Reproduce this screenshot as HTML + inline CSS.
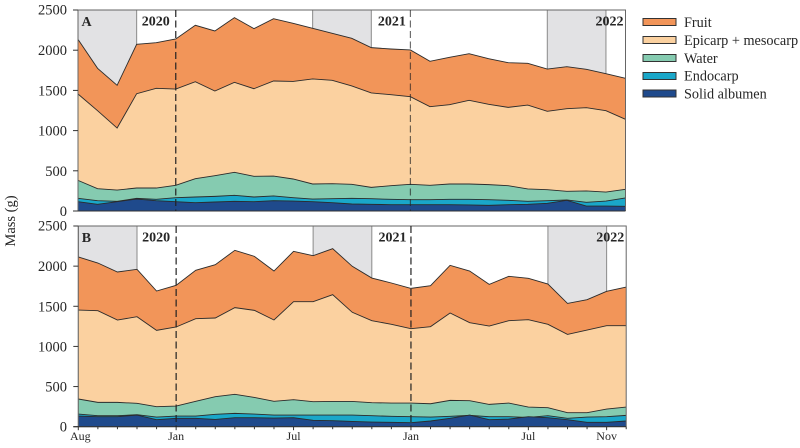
<!DOCTYPE html>
<html lang="en">
<head>
<meta charset="utf-8">
<title>Mass by fruit component</title>
<style>
html,body{margin:0;padding:0;background:#fff;width:800px;height:448px;overflow:hidden}
svg{display:block;font-family:"Liberation Serif",serif;color:#222}
text{fill:#262626}
</style>
</head>
<body>
<svg id="chart" width="800" height="448" viewBox="0 0 800 448" xmlns="http://www.w3.org/2000/svg">
<text transform="translate(15,221) rotate(-90)" text-anchor="middle" font-size="14.5">Mass (g)</text>
<g>
<g><rect x="643" y="18.5" width="33" height="7" fill="#F29559" stroke="#333" stroke-width="1"/><text x="684" y="27" font-size="14.25">Fruit</text></g>
<g><rect x="643" y="36.5" width="33" height="7" fill="#FBD1A0" stroke="#333" stroke-width="1"/><text x="684" y="45" font-size="14.25">Epicarp + mesocarp</text></g>
<g><rect x="643" y="54.5" width="33" height="7" fill="#85CBB0" stroke="#333" stroke-width="1"/><text x="684" y="63" font-size="14.25">Water</text></g>
<g><rect x="643" y="72.5" width="33" height="7" fill="#1AA7C9" stroke="#333" stroke-width="1"/><text x="684" y="80.5" font-size="14.25">Endocarp</text></g>
<g><rect x="643" y="90" width="33" height="7" fill="#1F4A8C" stroke="#333" stroke-width="1"/><text x="684" y="98.5" font-size="14.25">Solid albumen</text></g>
</g>
</svg>
<script>
const months = 29;
const yTicks = [0, 500, 1000, 1500, 2000, 2500];
const xTickIndexes = [0, 5, 11, 17, 23, 27];
const xTickLabels = ['Aug', 'Jan', 'Jul', 'Jan', 'Jul', 'Nov'];
const dryPeriods = [[0, 3], [12, 15], [24, 27]];
const yearDividers = [5, 17];

const fruitA = [2135,1775,1563,2073,2094,2140,2310,2239,2405,2268,2392,2334,2272,2210,2148,2032,2015,2003,1862,1911,1957,1895,1845,1837,1766,1795,1762,1708,1650];
const epicarpA = [1455,1248,1032,1459,1526,1517,1608,1492,1600,1521,1617,1612,1642,1625,1555,1468,1447,1422,1298,1322,1376,1327,1289,1318,1240,1273,1285,1248,1140];
const waterA = [381,278,261,286,286,319,402,439,481,431,435,398,336,340,332,294,315,332,319,336,336,328,315,274,265,245,249,236,270];
const endocarpA = [158,128,120,157,145,166,174,182,195,174,187,166,149,153,158,153,145,141,141,145,145,141,133,120,128,137,108,124,162];
const albumenA = [116,83,116,149,128,116,104,112,120,116,128,124,116,104,87,83,79,79,79,79,75,70,79,83,95,133,62,62,58];

const fruitB = [2114,2039,1927,1960,1690,1761,1948,2018,2197,2122,1939,2184,2130,2218,1998,1852,1790,1723,1757,2010,1939,1773,1873,1848,1777,1536,1582,1686,1740];
const epicarpB = [1453,1445,1329,1370,1200,1242,1345,1354,1483,1449,1329,1557,1557,1645,1425,1321,1275,1221,1246,1416,1296,1254,1321,1333,1275,1150,1204,1258,1258];
const waterB = [345,303,303,291,249,257,316,374,403,365,316,336,311,315,315,299,295,295,286,328,324,278,295,245,237,174,174,220,245];
const endocarpB = [158,137,137,150,120,133,133,154,166,158,145,145,145,145,145,137,129,125,120,129,141,125,125,116,137,104,120,125,141];
const albumenB = [133,125,125,145,87,104,104,91,112,112,108,112,79,75,66,58,54,50,71,104,145,87,95,125,112,87,54,54,71];

const seriesNames = ['fruit', 'epicarp-mesocarp', 'water', 'endocarp', 'solid-albumen'];
const seriesColors = ['#F29559', '#FBD1A0', '#85CBB0', '#1AA7C9', '#1F4A8C'];

const svg = document.getElementById('chart');
const NS = 'http://www.w3.org/2000/svg';

function make(tag, attrs, parent) {
  const el = document.createElementNS(NS, tag);
  Object.keys(attrs).forEach(function (k) { el.setAttribute(k, attrs[k]); });
  parent.appendChild(el);
  return el;
}

function drawPanel(cfg) {
  const xScale = function (i) { return cfg.left + (cfg.right - cfg.left) * i / (months - 1); };
  const yScale = function (v) { return cfg.bottom - (cfg.bottom - cfg.top) * v / 2500; };

  const panel = make('g', {}, svg);
  
  

  dryPeriods.forEach(function (p, n) {
    const band = make('rect', {
      x: xScale(p[0]), y: cfg.top, width: xScale(p[1]) - xScale(p[0]),
      height: cfg.bottom - cfg.top, fill: '#E2E2E4', stroke: '#8a8a8a', 'stroke-width': 1
    }, panel);
    
    
  });

  cfg.series.forEach(function (values, s) {
    let d = 'M' + xScale(0) + ',' + yScale(0);
    values.forEach(function (v, i) { d += 'L' + xScale(i).toFixed(2) + ',' + yScale(v).toFixed(2); });
    d += 'L' + xScale(values.length - 1) + ',' + yScale(0) + 'Z';
    const area = make('path', { d: d, fill: seriesColors[s] }, panel);
    
    

    let ld = '';
    values.forEach(function (v, i) { ld += (i ? 'L' : 'M') + xScale(i).toFixed(2) + ',' + yScale(v).toFixed(2); });
    const line = make('path', { d: ld, fill: 'none', stroke: '#2b2b2b', 'stroke-width': 0.9 }, panel);
    
    
  });

  const frame = make('path', {
    d: 'M' + cfg.left + ',' + cfg.bottom + 'V' + cfg.top + 'H' + cfg.right + 'V' + cfg.bottom,
    fill: 'none', stroke: '#666', 'stroke-width': 1
  }, panel);
  
  

  const baseline = make('line', {
    x1: cfg.left - 5, x2: cfg.right, y1: cfg.bottom, y2: cfg.bottom, stroke: '#333', 'stroke-width': 1.1
  }, panel);
  
  

  yearDividers.forEach(function (idx, n) {
    const divider = make('line', {
      x1: xScale(idx), x2: xScale(idx), y1: cfg.top, y2: cfg.bottom,
      stroke: '#222', 'stroke-width': 1.2, 'stroke-dasharray': '7 3.5',
      opacity: (cfg.id === 'a' && n === 1) ? 0.65 : 1
    }, panel);
    
    
  });

  yTicks.forEach(function (t) {
    const tick = make('line', {
      x1: cfg.left - 5, x2: cfg.left, y1: yScale(t), y2: yScale(t), stroke: '#333', 'stroke-width': 1
    }, panel);
    
    
    const label = make('text', {
      x: 67, y: yScale(t) + (t === 2500 ? 4.5 : 5), 'text-anchor': 'end', 'font-size': 14.5
    }, panel);
    
    
    label.textContent = t;
  });

  cfg.yearLabels.forEach(function (yl, n) {
    const label = make('text', {
      x: xScale(yl.index) - yl.gap, y: cfg.top + 15.5, 'text-anchor': yl.anchor,
      'font-size': 14, 'font-weight': 'bold'
    }, panel);
    
    
    label.textContent = yl.text;
  });

  const letter = make('text', {
    x: cfg.left + 3.5, y: cfg.top + 16, 'font-size': 14, 'font-weight': 'bold'
  }, panel);
  
  
  letter.textContent = cfg.id.toUpperCase();

  if (cfg.showX) {
    for (let i = 0; i < months; i++) {
      const major = xTickIndexes.indexOf(i) >= 0;
      const tick = make('line', {
        x1: xScale(i), x2: xScale(i), y1: cfg.bottom, y2: cfg.bottom + (major ? 3.5 : 2.5),
        stroke: '#333', 'stroke-width': 1
      }, panel);
      
      
    }
    xTickIndexes.forEach(function (idx, n) {
      const label = make('text', {
        x: xScale(idx) + (n === 0 ? 2 : 0), y: 440, 'text-anchor': 'middle', 'font-size': 12
      }, panel);
      
      
      label.textContent = xTickLabels[n];
    });
  }
}

const yearLabelsDef = [
  { index: 5, gap: 6, anchor: 'end', text: '2020' },
  { index: 17, gap: 4.5, anchor: 'end', text: '2021' },
  { index: 28, gap: 2, anchor: 'end', text: '2022' }
];

drawPanel({ id: 'a', left: 78, right: 625.5, top: 10, bottom: 211,
  series: [fruitA, epicarpA, waterA, endocarpA, albumenA],
  yearLabels: yearLabelsDef, showX: false });
drawPanel({ id: 'b', left: 78.3, right: 626.2, top: 226, bottom: 426.7,
  series: [fruitB, epicarpB, waterB, endocarpB, albumenB],
  yearLabels: yearLabelsDef, showX: true });
</script>
</body>
</html>
